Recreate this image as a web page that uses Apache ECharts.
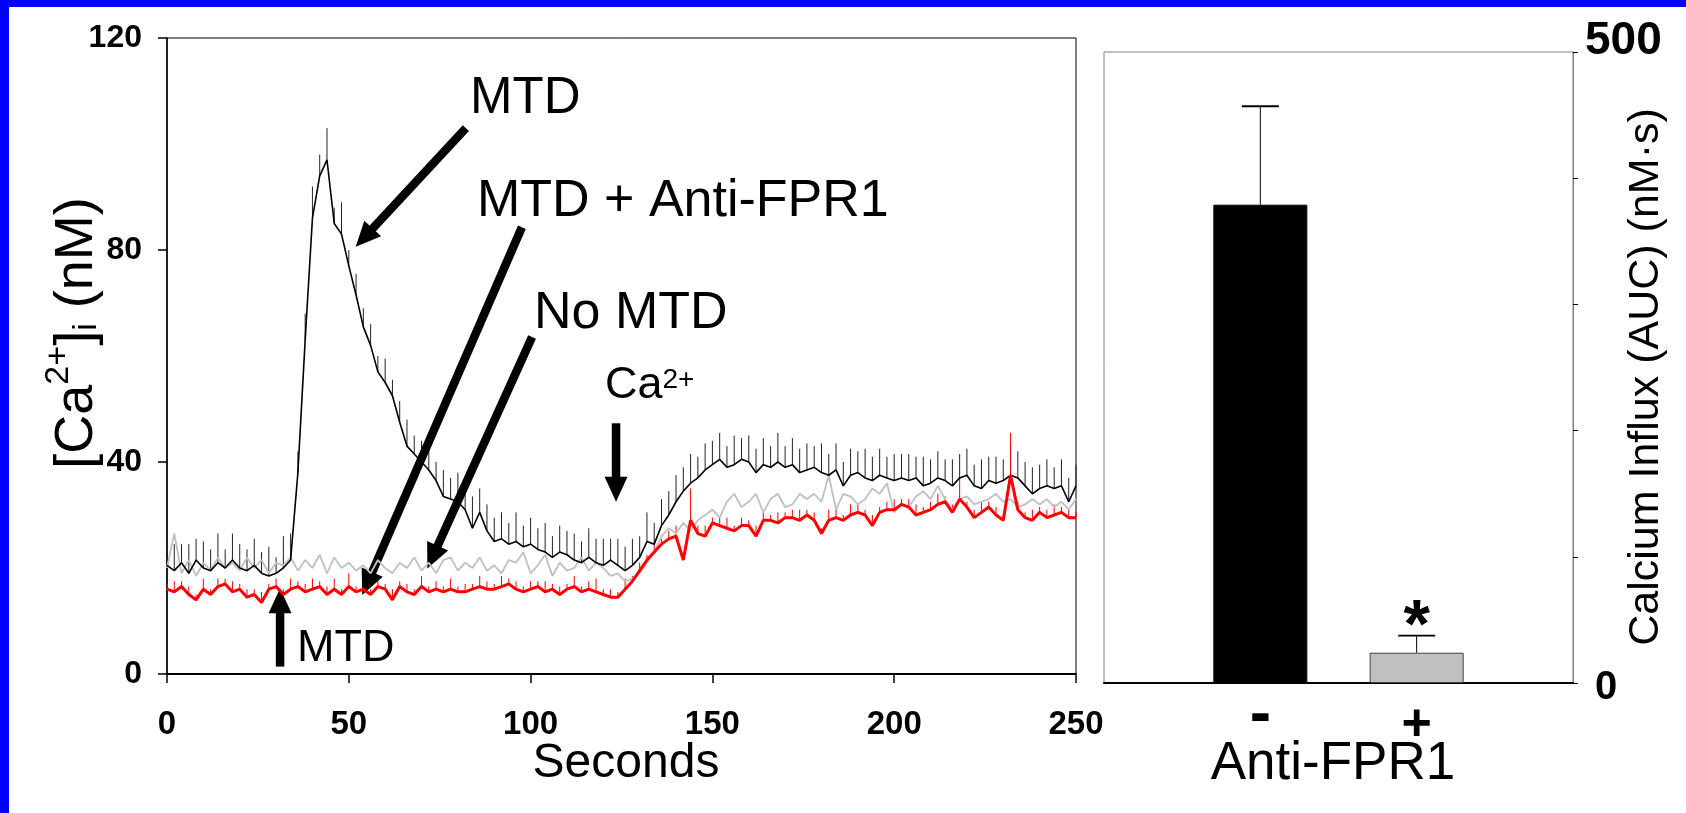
<!DOCTYPE html>
<html>
<head>
<meta charset="utf-8">
<script src="https://cdn.jsdelivr.net/npm/echarts@6/dist/echarts.min.js"></script>
<style>
html,body{margin:0;padding:0;background:#fff;overflow:hidden;}
#chart{position:absolute;left:0;top:0;width:1686px;height:813px;}
.edge{position:absolute;background:#0000fe;z-index:5;}
</style>
</head>
<body>
<div id="chart"></div>
<div class="edge" style="left:0;top:0;width:1686px;height:7px;"></div>
<div class="edge" style="left:0;top:0;width:9px;height:813px;"></div>
<script>
// ---------------- data ----------------
const seconds = [0,2,4,6,8,10,12,14,16,18,20,22,24,26,28,30,32,34,36,38,40,42,44,46,48,50,52,54,56,58,60,62,64,66,68,70,72,74,76,78,80,82,84,86,88,90,92,94,96,98,100,102,104,106,108,110,112,114,116,118,120,122,124,126,128,130,132,134,136,138,140,142,144,146,148,150,152,154,156,158,160,162,164,166,168,170,172,174,176,178,180,182,184,186,188,190,192,194,196,198,200,202,204,206,208,210,212,214,216,218,220,222,224,226,228,230,232,234,236,238,240,242,244,246,248,250];

// MTD (black trace), nM
const mtd = [
20.5,19.5,21,19,21.5,20,19.5,21,20,21.5,
20,19.5,20.5,19,18.5,19,20,21.5,38,63,
86,94,97,85,83,77,71.5,65.5,62,57,
55,52.5,47.5,43,41.5,40,38.5,36.5,33.5,33,
32.5,31,27.5,30.5,27,25,25.5,24.5,25,24,
24.5,23.5,23,22,23,22.5,21.5,21,22,21,
20.5,21.5,20.5,19.5,20.5,22,25,24.5,28,30,
32.5,34.5,36,37,38.5,39.5,40.5,39,39.5,40.5,
40,38,39.5,39,40,39,39.5,38,38.5,39,
38,37.5,38.5,35.5,37.5,38,37,36.5,37.5,37,
36.5,37,36.5,37,35.5,36,37,36.5,35.5,37,
37.5,35.5,35,36.5,36,36.5,37.5,37,35.5,34,
35,35.5,35,35.5,32.5,35.5];
const mtdErr = [
4.5,5,3.5,5.5,4,5,4,5.5,3.5,5,
4.5,4,5,4,5.5,3,6,5,4,5,
6,4,6,3,6,3,4,3.5,4,3,
4.5,3,4,5,3.5,4,5,3.5,5,4,
5.5,4,6,4.5,5,4.5,5,4,5.5,4,
5,4,5.5,4,5,4.5,5,4,5.5,4.5,
5,4,5,4.5,5,4,5.5,4,5,4.5,
5,4.5,5.5,4,5,4.5,5,4,5.5,4,
5,4.5,5,4,5.5,4,5,4.5,5,4,
5.5,4,5,4.5,5,4,5.5,4.5,5,4,
5,4.5,5,4,5.5,4.5,5,4,5,4.5,
5,4,5.5,4.5,5,4,5.5,5,4.5,5,
4.5,5,4,5,4.5,4];

// No MTD (grey trace), nM
const noMtd = [
20,26.5,19,21.5,18.5,21,19.5,22,20,21,
19.5,22,20,21.5,19,21,20.5,22,19.5,21.5,
20,22.5,19,22,20,21,19.5,20.5,19,21.5,
20,19,21,20,22,19.5,21,19,21.5,22,
19.5,21,20,22,19.5,20.5,19,21.5,21,23,
19,20.5,22.5,18.5,21,19.5,20,22,19.5,21,
20,18.5,19,17.5,18,19,21,23,26,27.5,
26.5,28.5,27,29,30,31,29.5,32.5,34,31.5,
32.5,34,30.5,33,34,31.5,32,34,33,34,
32.5,37.5,31,34,33.5,32,33,35,34,36,
30.5,32,31.5,33.5,34.5,33,35.5,33,31,33,
33.5,32,32.5,33,34,32.5,33,31.5,32,33,
32,33,31.5,32.5,31,33];

// MTD + Anti-FPR1 (red trace), nM
const mtdAnti = [
16,15.5,16.5,15,14,16,15,16.5,17,15.5,
16,14.5,15,13.5,16,16.5,15,16,16.5,15.5,
16,16.5,15,16,15,16.5,15.5,16,15,16.5,
16,14,16.5,15.5,15,16.5,15.5,16,15.5,16,
15.5,15.5,16,16.5,16,16,16.5,17,16,15.5,
16,16.5,15.5,16,15,16,16.5,15.5,16,15.5,
15,14.5,14.5,16,17.5,19.5,21.5,23,24.5,25.5,
26,21.5,29,26.5,26,28.5,28,27.5,27,28,
28,26,29,29,28.5,29.5,29.5,29,30,29,
26.5,29,29.5,29,30,30.5,30,28,30.5,31,
31,32,31.5,30,30.5,31,32,32.5,30.5,33,
31.5,29.5,30.5,31.5,30,29,37.5,31,29.5,29,
30.5,29.5,30,30.5,29.5,29.5];
const mtdAntiErr = [
1,2,1,1.5,1,2,1,1.5,1,2,
1,1.5,1,2,1,1.5,1,2,1,1.5,
2,1,1.5,2,1,2.5,1,2,1,1.5,
1,2,1,1.5,1,2,1,1.5,1,2,
1,1.5,1,2,1.5,1,2,1,1.5,1,
1.5,1,2,1,1.5,1,2,1,1.5,2.5,
1,1.5,1,2,1,1.5,1,2,1,1.5,
2,1,6,1.5,2,1,1.5,2,1,1.5,
1,2,1.5,1,2,1,1.5,2,1,1.5,
1,2,1.5,1,2,1.5,1,2,1,1.5,
2,1,1.5,2,1,1.5,2,1,1.5,4,
1,1.5,2,1,1.5,1,8,1.5,1,2,
1,1.5,2,1,1.5,1];

// annotation arrows in data units [x0, y0] -> [xTip, yTip]
const arrowStart = [[82.2,103.0],[97.6,84.3],[100.4,63.6],[123.5,47.3],[31.1,1.4]];
const arrowTip   = [[51.9,80.6],[53.7,14.9],[71.6,19.9],[123.5,32.5],[31.1,16.2]];

const leftXTicks = [0,50,100,150,200,250];
const leftYTicks = [0,40,80,120];

// right panel
const treatment = ['-', '+'];
const auc = [379, 24];
const aucErr = [78, 13.5];
const significance = ['', '*'];
const rightYTicks = [0,100,200,300,400,500];

// ---------------- chart ----------------
const FONT = '"Liberation Sans", Arial, Helvetica, sans-serif';
const chart = echarts.init(document.getElementById('chart'), null, {renderer:'canvas'});

function errBarRender(color, width){
  return function(params, api){
    const x = api.value(0), y = api.value(1), e = api.value(2);
    const p1 = api.coord([x, y]);
    const p2 = api.coord([x, y + e]);
    return {type:'line', shape:{x1:p1[0], y1:p1[1], x2:p2[0], y2:p2[1]},
            style:{stroke:color, lineWidth:width}};
  };
}

const barColors = ['#000000', '#c0c0c0'];
const barBorders = ['#000000', '#404040'];

const option = {
  animation:false,
  backgroundColor:'#ffffff',
  textStyle:{fontFamily:FONT},
  grid:[
    {left:167, top:38, width:909, height:636, show:true, borderColor:'#000', borderWidth:1, backgroundColor:'transparent', outerBoundsMode:'none', containLabel:false},
    {left:1104, top:52, width:469, height:631, show:true, borderColor:'#808080', borderWidth:1, backgroundColor:'transparent', outerBoundsMode:'none', containLabel:false}
  ],
  xAxis:[
    {gridIndex:0, type:'value', min:0, max:250, interval:50,
     axisLine:{show:true, onZero:false, lineStyle:{color:'#000', width:2}},
     axisTick:{show:true, inside:false, length:9, lineStyle:{color:'#000', width:1.5}},
     axisLabel:{show:true, margin:34, color:'#000', fontSize:33, fontWeight:'bold', fontFamily:FONT,
       formatter:v => leftXTicks.indexOf(v) >= 0 ? String(v) : ''},
     splitLine:{show:false}},
    {gridIndex:1, type:'category', data:['', ...treatment, ''], boundaryGap:false,
     axisLine:{show:true, onZero:false, lineStyle:{color:'#000', width:2}},
     axisTick:{show:false},
     axisLabel:{show:true, interval:0, margin:17, color:'#000', fontFamily:FONT,
       formatter:v => v === '-' ? '{m|-}' : (v === '+' ? '{p|+}' : ''),
       rich:{m:{fontSize:64, lineHeight:32, fontWeight:'bold', fontFamily:FONT},
             p:{fontSize:52, fontWeight:'bold', fontFamily:FONT}}},
     splitLine:{show:false}}
  ],
  yAxis:[
    {gridIndex:0, type:'value', min:0, max:120, interval:40,
     axisLine:{show:true, onZero:false, lineStyle:{color:'#000', width:1.5}},
     axisTick:{show:true, inside:false, length:9, lineStyle:{color:'#000', width:1.5}},
     axisLabel:{show:true, margin:25, color:'#000', fontSize:32, fontWeight:'bold', fontFamily:FONT,
       formatter:v => leftYTicks.indexOf(v) >= 0 ? String(v) : ''},
     splitLine:{show:false}},
    {gridIndex:1, type:'value', position:'right', min:0, max:500, interval:100,
     axisLine:{show:true, onZero:false, lineStyle:{color:'#808080', width:1}},
     axisTick:{show:true, inside:false, length:5, lineStyle:{color:'#000', width:1}},
     axisLabel:{show:true, margin:12, color:'#000', fontFamily:FONT,
       formatter:v => v === rightYTicks[rightYTicks.length-1] ? '{a|' + v + '}' : (v === rightYTicks[0] ? '{b|' + v + '}' : ''),
       rich:{a:{fontSize:46, fontWeight:'bold', fontFamily:FONT, padding:[0,0,22,0]},
             b:{fontSize:40, fontWeight:'bold', fontFamily:FONT, padding:[10,0,0,10]}}},
     splitLine:{show:false}}
  ],
  series:[
    {name:'No MTD', type:'line', xAxisIndex:0, yAxisIndex:0, silent:true,
     data:seconds.map((t,i)=>[t, noMtd[i]]), showSymbol:false, symbol:'none',
     lineStyle:{color:'#c0c0c0', width:1.8}},
    {name:'MTD err', type:'custom', xAxisIndex:0, yAxisIndex:0, silent:true,
     data:seconds.map((t,i)=>[t, mtd[i], mtdErr[i]]), encode:{x:0, y:1},
     renderItem:errBarRender('#222', 1)},
    {name:'MTD', type:'line', xAxisIndex:0, yAxisIndex:0, silent:true,
     data:seconds.map((t,i)=>[t, mtd[i]]), showSymbol:false, symbol:'none',
     lineStyle:{color:'#000', width:1.6}},
    {name:'MTD + Anti-FPR1 err', type:'custom', xAxisIndex:0, yAxisIndex:0, silent:true,
     data:seconds.map((t,i)=>[t, mtdAnti[i], mtdAntiErr[i]]), encode:{x:0, y:1},
     renderItem:errBarRender('#ff0000', 1)},
    {name:'MTD + Anti-FPR1', type:'line', xAxisIndex:0, yAxisIndex:0, silent:true,
     data:seconds.map((t,i)=>[t, mtdAnti[i]]), showSymbol:false, symbol:'none',
     lineStyle:{color:'#ff0000', width:3}},
    {name:'arrows', type:'custom', xAxisIndex:0, yAxisIndex:0, silent:true, clip:false,
     data:arrowStart.map((s,i)=>[s[0], s[1], arrowTip[i][0], arrowTip[i][1]]),
     encode:{x:[0,2], y:[1,3]},
     renderItem:function(params, api){
       const a = api.coord([api.value(0), api.value(1)]);
       const b = api.coord([api.value(2), api.value(3)]);
       const dx = b[0]-a[0], dy = b[1]-a[1];
       const len = Math.sqrt(dx*dx + dy*dy);
       const ux = dx/len, uy = dy/len, nx = -uy, ny = ux;
       const hl = 25, hw = 11.5, sw = 8.5;
       const bx = b[0]-ux*hl, by = b[1]-uy*hl;
       return {type:'group', children:[
         {type:'line', shape:{x1:a[0], y1:a[1], x2:bx+ux*3, y2:by+uy*3}, style:{stroke:'#000', lineWidth:sw}},
         {type:'polygon', shape:{points:[[b[0],b[1]],[bx+nx*hw, by+ny*hw],[bx-nx*hw, by-ny*hw]]}, style:{fill:'#000'}}
       ]};
     }},
    {name:'AUC', type:'bar', xAxisIndex:1, yAxisIndex:1, silent:true, barWidth:94,
     data:[null, ...auc.map((v,i)=>({value:v, itemStyle:{color:barColors[i], borderColor:barBorders[i], borderWidth:1}})), null]},
    {name:'AUC err', type:'custom', xAxisIndex:1, yAxisIndex:1, silent:true, clip:false,
     data:auc.map((v,i)=>[i+1, v, aucErr[i]]), encode:{x:0, y:1},
     renderItem:function(params, api){
       const x = api.value(0), y = api.value(1), e = api.value(2);
       const p1 = api.coord([x, y]);
       const p2 = api.coord([x, y + e]);
       const cw = 18.5;
       const children = [
         {type:'line', shape:{x1:p1[0], y1:p1[1], x2:p2[0], y2:p2[1]}, style:{stroke:'#000', lineWidth:1}},
         {type:'line', shape:{x1:p2[0]-cw, y1:p2[1], x2:p2[0]+cw, y2:p2[1]}, style:{stroke:'#000', lineWidth:1.8}}
       ];
       const s = significance[params.dataIndex];
       if (s) {
         children.push({type:'text', x:p2[0], y:p2[1]-7, style:{text:s, fontSize:68, fontWeight:'bold', fontFamily:FONT, fill:'#000', align:'center', verticalAlign:'middle'}});
       }
       return {type:'group', children:children};
     }}
  ],
  graphic:[
    {type:'text', silent:true, x:470, y:99, style:{text:'MTD', fontSize:51, fontFamily:FONT, fill:'#000', align:'left', verticalAlign:'middle'}},
    {type:'text', silent:true, x:477, y:202, style:{text:'MTD + Anti-FPR1', fontSize:52, fontFamily:FONT, fill:'#000', align:'left', verticalAlign:'middle'}},
    {type:'text', silent:true, x:534, y:314, style:{text:'No MTD', fontSize:52, fontFamily:FONT, fill:'#000', align:'left', verticalAlign:'middle'}},
    {type:'text', silent:true, x:605, y:386, style:{text:'{n|Ca}{s|2+}', fill:'#000', align:'left', verticalAlign:'middle',
      rich:{n:{fontSize:45, lineHeight:45, fontFamily:FONT, verticalAlign:'bottom'},
            s:{fontSize:28, lineHeight:28, fontFamily:FONT, verticalAlign:'bottom', padding:[0,0,14,0]}}}},
    {type:'text', silent:true, x:297, y:649, style:{text:'MTD', fontSize:45, fontFamily:FONT, fill:'#000', align:'left', verticalAlign:'middle'}},
    {type:'text', silent:true, x:626, y:764, style:{text:'Seconds', fontSize:48, fontFamily:FONT, fill:'#000', align:'center', verticalAlign:'middle'}},
    {type:'text', silent:true, x:1333, y:764, style:{text:'Anti-FPR1', fontSize:53, fontFamily:FONT, fill:'#000', align:'center', verticalAlign:'middle'}},
    {type:'text', silent:true, x:77, y:333, rotation:Math.PI/2,
     style:{text:'{n|[Ca}{sup|2+}{n|]}{sub|i}{n| (nM)}', fill:'#000', align:'center', verticalAlign:'middle',
      rich:{n:{fontSize:54, lineHeight:54, fontFamily:FONT, verticalAlign:'bottom'},
            sup:{fontSize:34, lineHeight:34, fontFamily:FONT, verticalAlign:'bottom', padding:[0,0,28,0]},
            sub:{fontSize:34, lineHeight:34, fontFamily:FONT, verticalAlign:'bottom'}}}},
    {type:'text', silent:true, x:1646, y:377, rotation:Math.PI/2,
     style:{text:'Calcium Influx (AUC) (nM\u00b7s)', fontSize:43, fontFamily:FONT, fill:'#000', align:'center', verticalAlign:'middle'}}
  ]
};
chart.setOption(option);
</script>
</body>
</html>
